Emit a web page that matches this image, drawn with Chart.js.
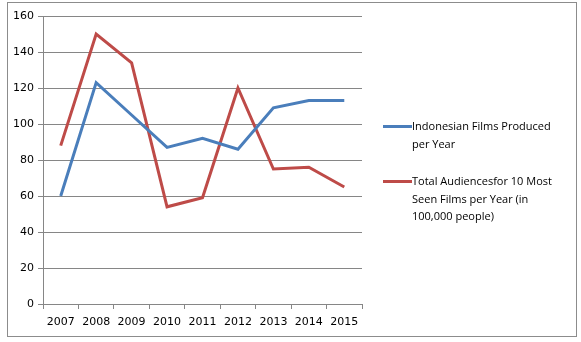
<!DOCTYPE html>
<html>
<head>
<meta charset="utf-8">
<script src="https://cdn.jsdelivr.net/npm/chart.js@4"></script>
<style>
  html, body { margin: 0; padding: 0; background: #fff; }
  #wrap { position: relative; width: 581px; height: 342px; }
  #frame { position: absolute; left: 7px; top: 2px; width: 570px; height: 335px; border: 1px solid #8c8c8c; box-sizing: border-box; }
  #legend { position: absolute; left: 383px; top: 117px; font-family: "Open Sans", sans-serif; font-size: 11px; color: #000; }
  .item { display: flex; align-items: flex-start; margin-bottom: 20px; }
  .swatch { width: 29px; height: 3px; margin-top: 8px; flex: none; }
  .txt { line-height: 17.5px; width: 165px; }
</style>
</head>
<body>
<div id="wrap">
  <div id="frame"></div>
  <canvas id="myChart" width="581" height="342"></canvas>
  <div id="legend"></div>
</div>
<script>
(() => {
    const years = ['2007', '2008', '2009', '2010', '2011', '2012', '2013', '2014', '2015'];
    const filmsProduced = [60, 123, 105, 87, 92, 86, 109, 113, 113];
    const audiences = [88, 150, 134, 54, 59, 120, 75, 76, 65];
    const seriesNames = [
        ['Indonesian Films Produced', 'per Year'],
        ['Total Audiencesfor 10 Most', 'Seen Films per Year (in', '100,000 people)']
    ];
    const colors = ['#4a7ebb', '#be4b48'];
    const yTicks = [0, 20, 40, 60, 80, 100, 120, 140, 160];

    const ctx = document.getElementById('myChart');
    const font = { family: '"DejaVu Sans", sans-serif', size: 11 };

    const data = {
        labels: years,
        datasets: [filmsProduced, audiences].map((values, i) => ({
            label: seriesNames[i].join(' '),
            data: values,
            borderColor: colors[i],
            backgroundColor: colors[i],
            borderWidth: 3,
            pointRadius: 0,
            tension: 0,
            fill: false
        }))
    };

    const config = {
        type: 'line',
        data: data,
        options: {
            responsive: false,
            animation: false,
            layout: { padding: { left: 0, top: 16, right: 219, bottom: 8 } },
            plugins: {
                legend: { display: false },
                tooltip: { enabled: false }
            },
            scales: {
                x: {
                    offset: true,
                    grid: { offset: true, drawOnChartArea: false, drawTicks: true, tickLength: 5, color: '#868686' },
                    border: { display: true, color: '#868686' },
                    ticks: { color: '#000', font: font, padding: 7, maxRotation: 0 },
                    afterFit: s => { s.height = 30; }
                },
                y: {
                    min: 0,
                    max: 160,
                    afterBuildTicks: s => { s.ticks = yTicks.map(v => ({ value: v })); },
                    grid: { color: '#868686', tickLength: 5 },
                    border: { display: true, color: '#868686' },
                    ticks: { color: '#000', font: font, padding: 4 },
                    afterFit: s => { s.width = 43; }
                }
            }
        }
    };
    new Chart(ctx, config);

    // legend with wrapped labels, built from the series names
    const legend = document.getElementById('legend');
    seriesNames.forEach((lines, i) => {
        const item = document.createElement('div');
        item.className = 'item';
        const sw = document.createElement('div');
        sw.className = 'swatch';
        sw.style.background = colors[i];
        const txt = document.createElement('div');
        txt.className = 'txt';
        txt.innerHTML = lines.join('<br>');
        item.appendChild(sw);
        item.appendChild(txt);
        legend.appendChild(item);
    });
})();
</script>
</body>
</html>
